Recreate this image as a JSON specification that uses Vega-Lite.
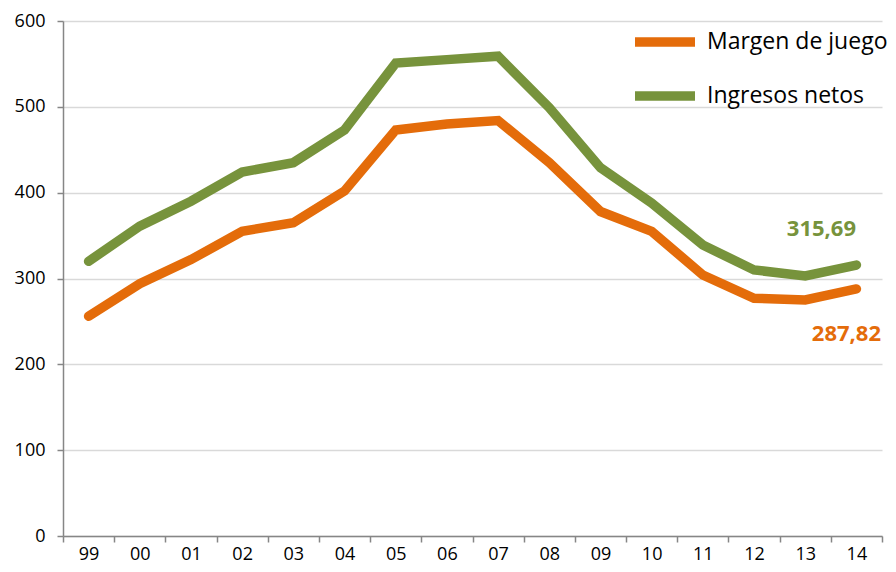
{
  "$schema": "https://vega.github.io/schema/vega-lite/v6.json",
  "autosize": "none",
  "width": 819,
  "height": 515,
  "padding": {"left": 63, "top": 21, "right": 14, "bottom": 36},
  "background": "white",
  "config": {
    "view": {"stroke": null},
    "font": "Open Sans",
    "axis": {"labelFont": "Open Sans", "labelFontSize": 18, "labelColor": "#000000", "domainColor": "#868686", "tickColor": "#868686", "gridColor": "#D9D9D9", "domainWidth": 1.5, "tickWidth": 1.5, "gridWidth": 1.5, "title": null}
  },
  "data": {"values": [
    {"year": "99", "series": "Margen de juego", "value": 256},
    {"year": "00", "series": "Margen de juego", "value": 294},
    {"year": "01", "series": "Margen de juego", "value": 322},
    {"year": "02", "series": "Margen de juego", "value": 355},
    {"year": "03", "series": "Margen de juego", "value": 365},
    {"year": "04", "series": "Margen de juego", "value": 402},
    {"year": "05", "series": "Margen de juego", "value": 473},
    {"year": "06", "series": "Margen de juego", "value": 480},
    {"year": "07", "series": "Margen de juego", "value": 484},
    {"year": "08", "series": "Margen de juego", "value": 435},
    {"year": "09", "series": "Margen de juego", "value": 378},
    {"year": "10", "series": "Margen de juego", "value": 355},
    {"year": "11", "series": "Margen de juego", "value": 304},
    {"year": "12", "series": "Margen de juego", "value": 277},
    {"year": "13", "series": "Margen de juego", "value": 275},
    {"year": "14", "series": "Margen de juego", "value": 287.82, "label": "287,82"},
    {"year": "99", "series": "Ingresos netos", "value": 320},
    {"year": "00", "series": "Ingresos netos", "value": 361},
    {"year": "01", "series": "Ingresos netos", "value": 390},
    {"year": "02", "series": "Ingresos netos", "value": 424},
    {"year": "03", "series": "Ingresos netos", "value": 435},
    {"year": "04", "series": "Ingresos netos", "value": 473},
    {"year": "05", "series": "Ingresos netos", "value": 551},
    {"year": "06", "series": "Ingresos netos", "value": 555},
    {"year": "07", "series": "Ingresos netos", "value": 559},
    {"year": "08", "series": "Ingresos netos", "value": 499},
    {"year": "09", "series": "Ingresos netos", "value": 429},
    {"year": "10", "series": "Ingresos netos", "value": 388},
    {"year": "11", "series": "Ingresos netos", "value": 339},
    {"year": "12", "series": "Ingresos netos", "value": 310},
    {"year": "13", "series": "Ingresos netos", "value": 303},
    {"year": "14", "series": "Ingresos netos", "value": 315.69, "label": "315,69"}
  ]},
  "encoding": {
    "x": {"field": "year", "type": "ordinal", "sort": null,
      "scale": {"paddingInner": 0, "paddingOuter": 0},
      "axis": {"labelAngle": 0, "tickBand": "extent", "tickSize": 6, "labelPadding": 3}},
    "y": {"field": "value", "type": "quantitative",
      "scale": {"domain": [0, 600], "nice": false},
      "axis": {"values": [0, 100, 200, 300, 400, 500, 600], "tickSize": 6, "labelPadding": 12, "grid": true}}
  },
  "layer": [
    {
      "mark": {"type": "line", "strokeWidth": 9.5, "strokeCap": "round", "strokeJoin": "miter"},
      "encoding": {
        "color": {"field": "series", "type": "nominal",
          "scale": {"domain": ["Margen de juego", "Ingresos netos"], "range": ["#E46C0A", "#77933C"]},
          "legend": {"orient": "none", "legendX": 567, "legendY": -14, "title": null,
            "symbolType": "stroke", "symbolStrokeWidth": 9.5, "symbolSize": 3600,
            "labelFont": "Open Sans", "labelFontSize": 23, "labelColor": "#000000", "labelLimit": 0,
            "labelOffset": 7, "rowPadding": 0, "padding": 0}}
      }
    },
    {
      "transform": [{"filter": "datum.series === 'Ingresos netos' && datum.label"}],
      "mark": {"type": "text", "fontWeight": "bold", "fontSize": 22, "font": "Open Sans", "color": "#77933C", "dx": -35, "dy": -36, "align": "center", "baseline": "middle"},
      "encoding": {"text": {"field": "label"}}
    },
    {
      "transform": [{"filter": "datum.series === 'Margen de juego' && datum.label"}],
      "mark": {"type": "text", "fontWeight": "bold", "fontSize": 22, "font": "Open Sans", "color": "#E46C0A", "dx": -10, "dy": 45, "align": "center", "baseline": "middle"},
      "encoding": {"text": {"field": "label"}}
    }
  ]
}
